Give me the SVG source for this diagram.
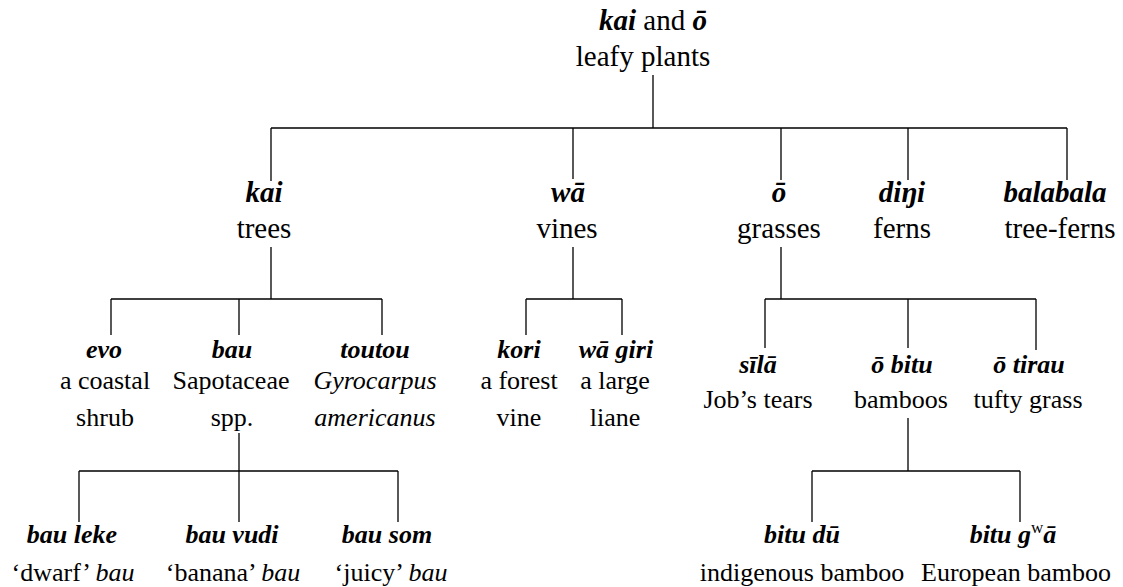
<svg xmlns="http://www.w3.org/2000/svg" width="1123" height="587" viewBox="0 0 1123 587">
<rect width="1123" height="587" fill="#fff"/>
<g id="connectors" fill="none" stroke="#000" stroke-width="1.3">
<path d="M653,75V128M271,128H1067M271,128V181M573,128V179M781,128V180M908,128V180M1067,128V180"/>
<path d="M271,247V299M111,299H382M111,299V335M239,299V335M382,299V335"/>
<path d="M573,247V299M526,299H622M526,299V335M622,299V335"/>
<path d="M781,247V299M765,299H1036M765,299V348M908,299V348M1036,299V350"/>
<path d="M239,433V471M79,471H398M79,471V522M239,471V522M398,471V522"/>
<path d="M908,418V471M812,471H1020M812,471V522M1020,471V522"/>
</g>
<g id="nodes" font-family="Liberation Serif" text-anchor="middle" fill="#000">
<g id="root" font-size="29"><text font-family="Liberation Serif" x="653" y="30"><tspan font-weight="bold" font-style="italic">kai</tspan> and <tspan font-weight="bold" font-style="italic">&#333;</tspan></text><text font-family="Liberation Serif" x="643" y="66">leafy plants</text></g>
<g id="kai" font-size="29"><text font-family="Liberation Serif" font-weight="bold" font-style="italic" x="264" y="202">kai</text><text font-family="Liberation Serif" x="264" y="238">trees</text></g>
<g id="wa" font-size="29"><text font-family="Liberation Serif" font-weight="bold" font-style="italic" x="568" y="202">w&#257;</text><text font-family="Liberation Serif" x="567" y="238">vines</text></g>
<g id="o" font-size="29"><text font-family="Liberation Serif" font-weight="bold" font-style="italic" x="779" y="202">&#333;</text><text font-family="Liberation Serif" x="779" y="238">grasses</text></g>
<g id="dingi" font-size="29"><text font-family="Liberation Serif" font-weight="bold" font-style="italic" x="902" y="202">di&#331;i</text><text font-family="Liberation Serif" x="902" y="238">ferns</text></g>
<g id="balabala" font-size="29"><text font-family="Liberation Serif" font-weight="bold" font-style="italic" x="1055" y="202">balabala</text><text font-family="Liberation Serif" x="1060" y="238">tree-ferns</text></g>
<g id="evo" font-size="26"><text font-family="Liberation Serif" font-weight="bold" font-style="italic" x="104" y="358">evo</text><text font-family="Liberation Serif" x="105" y="389">a coastal</text><text font-family="Liberation Serif" x="105" y="426">shrub</text></g>
<g id="bau" font-size="26"><text font-family="Liberation Serif" font-weight="bold" font-style="italic" x="232" y="358">bau</text><text font-family="Liberation Serif" x="231" y="389">Sapotaceae</text><text font-family="Liberation Serif" x="232" y="426">spp.</text></g>
<g id="toutou" font-size="26"><text font-family="Liberation Serif" font-weight="bold" font-style="italic" x="375" y="358">toutou</text><text font-family="Liberation Serif" font-style="italic" x="375" y="389">Gyrocarpus</text><text font-family="Liberation Serif" font-style="italic" x="375" y="426">americanus</text></g>
<g id="kori" font-size="26"><text font-family="Liberation Serif" font-weight="bold" font-style="italic" x="519" y="358">kori</text><text font-family="Liberation Serif" x="519" y="389">a forest</text><text font-family="Liberation Serif" x="519" y="426">vine</text></g>
<g id="wagiri" font-size="26"><text font-family="Liberation Serif" font-weight="bold" font-style="italic" x="616" y="358">w&#257; giri</text><text font-family="Liberation Serif" x="615" y="389">a large</text><text font-family="Liberation Serif" x="615" y="426">liane</text></g>
<g id="sila" font-size="26"><text font-family="Liberation Serif" font-weight="bold" font-style="italic" x="758" y="373">s&#299;l&#257;</text><text font-family="Liberation Serif" x="758" y="408">Job&#8217;s tears</text></g>
<g id="obitu" font-size="26"><text font-family="Liberation Serif" font-weight="bold" font-style="italic" x="902" y="373">&#333; bitu</text><text font-family="Liberation Serif" x="901" y="408">bamboos</text></g>
<g id="otirau" font-size="26"><text font-family="Liberation Serif" font-weight="bold" font-style="italic" x="1029" y="373">&#333; tirau</text><text font-family="Liberation Serif" x="1028" y="408">tufty grass</text></g>
<g id="bauleke" font-size="26"><text font-family="Liberation Serif" font-weight="bold" font-style="italic" x="72" y="543">bau leke</text><text font-family="Liberation Serif" x="73" y="581">&#8216;dwarf&#8217; <tspan font-style="italic">bau</tspan></text></g>
<g id="bauvudi" font-size="26"><text font-family="Liberation Serif" font-weight="bold" font-style="italic" x="232" y="543">bau vudi</text><text font-family="Liberation Serif" x="233" y="581">&#8216;banana&#8217; <tspan font-style="italic">bau</tspan></text></g>
<g id="bausom" font-size="26"><text font-family="Liberation Serif" font-weight="bold" font-style="italic" x="387" y="543">bau som</text><text font-family="Liberation Serif" x="391" y="581">&#8216;juicy&#8217; <tspan font-style="italic">bau</tspan></text></g>
<g id="bitudu" font-size="26"><text font-family="Liberation Serif" font-weight="bold" font-style="italic" x="802" y="543">bitu d&#363;</text><text font-family="Liberation Serif" x="802" y="581">indigenous bamboo</text></g>
<g id="bitugwa" font-size="26"><text font-family="Liberation Serif" font-weight="bold" font-style="italic" x="1013" y="543">bitu g<tspan font-size="17" font-weight="normal" font-style="normal" dy="-10">w</tspan><tspan dy="10">&#257;</tspan></text><text font-family="Liberation Serif" x="1016" y="581">European bamboo</text></g>
</g>
</svg>
